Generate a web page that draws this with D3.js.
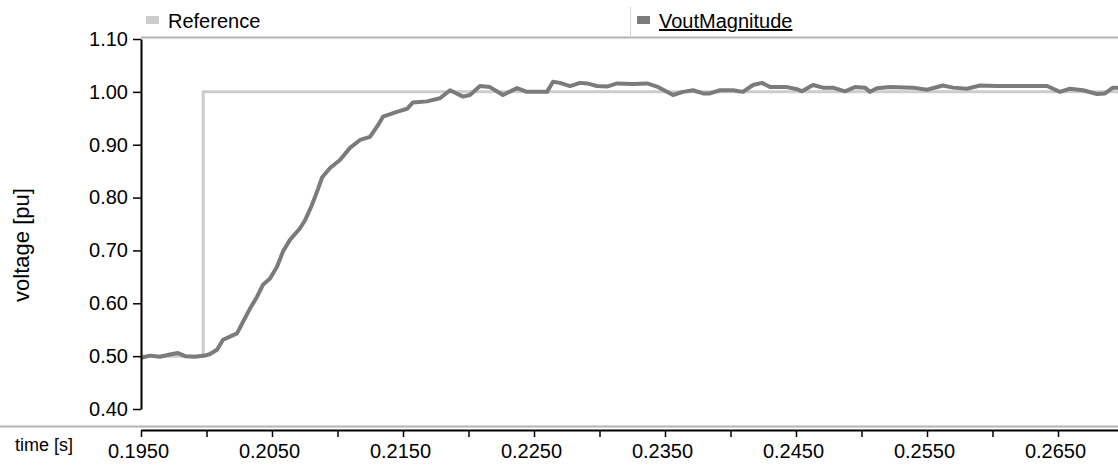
<!DOCTYPE html>
<html>
<head>
<meta charset="utf-8">
<script src="https://cdn.jsdelivr.net/npm/d3@7"></script>
<style>
  body { margin: 0; background: #fff; }
  svg { display: block; font-family: "Liberation Sans", Arial, sans-serif; }
</style>
</head>
<body>
<svg id="chart" width="1118" height="466"></svg>
<script>
// reference signal (step)
const refTime  = [0.1950, 0.19975, 0.19975, 0.2700];
const refValue = [0.500, 0.500, 1.000, 1.000];

const voutTime = [
  0.19500, 0.19569, 0.19645, 0.19721, 0.19782, 0.19836, 0.19912, 0.19989, 0.20027, 0.20080,
  0.20126, 0.20179, 0.20233, 0.20279, 0.20332, 0.20385, 0.20431, 0.20485, 0.20538, 0.20584,
  0.20637, 0.20714, 0.20752, 0.20805, 0.20851, 0.20882, 0.20943, 0.21019, 0.21095, 0.21172,
  0.21248, 0.21309, 0.21347, 0.21454, 0.21531, 0.21576, 0.21683, 0.21782, 0.21859, 0.21958,
  0.22011, 0.22088, 0.22164, 0.22263, 0.22370, 0.22447, 0.22599, 0.22645, 0.22698, 0.22775,
  0.22851, 0.22905, 0.22981, 0.23057, 0.23134, 0.23256, 0.23363, 0.23439, 0.23515, 0.23561,
  0.23637, 0.23714, 0.23790, 0.23844, 0.23920, 0.24019, 0.24095, 0.24172, 0.24240, 0.24302,
  0.24431, 0.24508, 0.24546, 0.24630, 0.24706, 0.24782, 0.24874, 0.24950, 0.25027, 0.25065,
  0.25118, 0.25218, 0.25393, 0.25500, 0.25622, 0.25698, 0.25805, 0.25905, 0.26034, 0.26416,
  0.26515, 0.26592, 0.26691, 0.26798, 0.26859, 0.26920, 0.26958
];
const voutValue = [
  0.497, 0.501, 0.499, 0.503, 0.506, 0.500, 0.499, 0.501, 0.504, 0.512,
  0.531, 0.537, 0.543, 0.565, 0.590, 0.612, 0.635, 0.647, 0.669, 0.698,
  0.720, 0.742, 0.757, 0.786, 0.816, 0.838, 0.856, 0.871, 0.894, 0.909,
  0.915, 0.937, 0.953, 0.962, 0.968, 0.980, 0.982, 0.988, 1.003, 0.991,
  0.994, 1.011, 1.009, 0.994, 1.007, 1.000, 1.000, 1.019, 1.017, 1.011,
  1.017, 1.016, 1.011, 1.010, 1.016, 1.015, 1.016, 1.010, 1.000, 0.994,
  1.000, 1.003, 0.997, 0.997, 1.003, 1.003, 1.000, 1.013, 1.017, 1.009,
  1.009, 1.005, 1.001, 1.013, 1.008, 1.008, 1.001, 1.009, 1.008, 1.000,
  1.007, 1.009, 1.008, 1.004, 1.012, 1.008, 1.006, 1.012, 1.011, 1.011,
  1.000, 1.006, 1.003, 0.996, 0.997, 1.008, 1.008
];

// axis ticks
const yTicks = [0.40, 0.50, 0.60, 0.70, 0.80, 0.90, 1.00, 1.10];
const xTicks = [0.1950, 0.2000, 0.2050, 0.2100, 0.2150, 0.2200, 0.2250, 0.2300,
                0.2350, 0.2400, 0.2450, 0.2500, 0.2550, 0.2600, 0.2650];
const xTickLabels = [0.1950, 0.2050, 0.2150, 0.2250, 0.2350, 0.2450, 0.2550, 0.2650];

const seriesNames = ['Reference', 'VoutMagnitude'];
const seriesColors = ['#cdcdcd', '#7b7b7b'];

const width = 1118;
const plotLeft = 141, plotRight = 1118, plotTop = 39, plotBottom = 409;
const xAxisY = 430;

const svg = d3.select('#chart');

const xScale = d3.scaleLinear()
    .domain([0.1950, 0.1950 + (plotRight - plotLeft) / 13100])
    .range([plotLeft, plotRight]);
const yScale = d3.scaleLinear()
    .domain([0.40, 1.10])
    .range([plotBottom, plotTop]);

// frame lines
svg.append('line')
    .attr('x1', plotLeft).attr('x2', width)
    .attr('y1', 37.5).attr('y2', 37.5)
    .attr('stroke', '#b4b4b4').attr('stroke-width', 2);
svg.append('line')
    .attr('x1', 0).attr('x2', width)
    .attr('y1', 426.5).attr('y2', 426.5)
    .attr('stroke', '#b4b4b4').attr('stroke-width', 2);
svg.append('line')
    .attr('x1', 630.5).attr('x2', 630.5)
    .attr('y1', 7).attr('y2', 37)
    .attr('stroke', '#d4d4d4').attr('stroke-width', 1);

// clip for the plot area
svg.append('clipPath').attr('id', 'plotClip')
  .append('rect')
    .attr('x', plotLeft).attr('y', plotTop - 6)
    .attr('width', plotRight - plotLeft).attr('height', plotBottom - plotTop + 12);

const plot = svg.append('g').attr('clip-path', 'url(#plotClip)');

const line = d3.line()
    .x(d => xScale(d[0]))
    .y(d => yScale(d[1]));

plot.append('path')
    .datum(refTime.map((t, i) => [t, refValue[i]]))
    .attr('d', line)
    .attr('fill', 'none')
    .attr('stroke', seriesColors[0])
    .attr('stroke-width', 3);

plot.append('path')
    .datum(voutTime.map((t, i) => [t, voutValue[i]]))
    .attr('d', line)
    .attr('fill', 'none')
    .attr('stroke', seriesColors[1])
    .attr('stroke-width', 4)
    .attr('stroke-linejoin', 'round');

// y axis
const yAxis = d3.axisLeft(yScale)
    .tickValues(yTicks)
    .tickSize(8)
    .tickSizeOuter(0)
    .tickPadding(5)
    .tickFormat(d3.format('.2f'));
const gy = svg.append('g')
    .attr('transform', 'translate(' + plotLeft + ',0)')
    .call(yAxis);
gy.select('.domain').attr('stroke', '#000').attr('stroke-width', 2);
gy.selectAll('.tick line').attr('stroke', '#000').attr('stroke-width', 1.5);
gy.selectAll('.tick text')
    .attr('fill', '#000')
    .style('font-size', '20px')
    .style('font-family', '"Liberation Sans", Arial, sans-serif');

// x axis
const xAxis = d3.axisBottom(xScale)
    .tickValues(xTicks)
    .tickSize(7)
    .tickSizeOuter(0)
    .tickPadding(7)
    .tickFormat(d => xTickLabels.some(v => Math.abs(v - d) < 1e-9) ? d3.format('.4f')(d) : '');
const gx = svg.append('g')
    .attr('transform', 'translate(0,' + xAxisY + ')')
    .call(xAxis);
gx.select('.domain').attr('stroke', '#000').attr('stroke-width', 2);
gx.selectAll('.tick line').attr('stroke', '#000').attr('stroke-width', 1.5);
gx.selectAll('.tick text')
    .attr('fill', '#000')
    .attr('dx', -3)
    .style('font-size', '20px')
    .style('font-family', '"Liberation Sans", Arial, sans-serif');

// axis titles
svg.append('text')
    .attr('x', 15).attr('y', 451)
    .attr('font-size', '18px')
    .attr('fill', '#000')
    .text('time [s]');

svg.append('text')
    .attr('transform', 'translate(29,245) rotate(-90)')
    .attr('text-anchor', 'middle')
    .attr('font-size', '22px')
    .attr('fill', '#000')
    .text('voltage [pu]');

// legend
const legendX = [146, 637];
seriesNames.forEach(function(name, i){
    svg.append('rect')
        .attr('x', legendX[i]).attr('y', 16)
        .attr('width', 13).attr('height', 8)
        .attr('fill', seriesColors[i]);
    svg.append('text')
        .attr('x', legendX[i] + 22).attr('y', 28)
        .attr('font-size', '20px')
        .attr('fill', '#000')
        .attr('text-decoration', i == 1 ? 'underline' : null)
        .text(name);
});
</script>
</body>
</html>
